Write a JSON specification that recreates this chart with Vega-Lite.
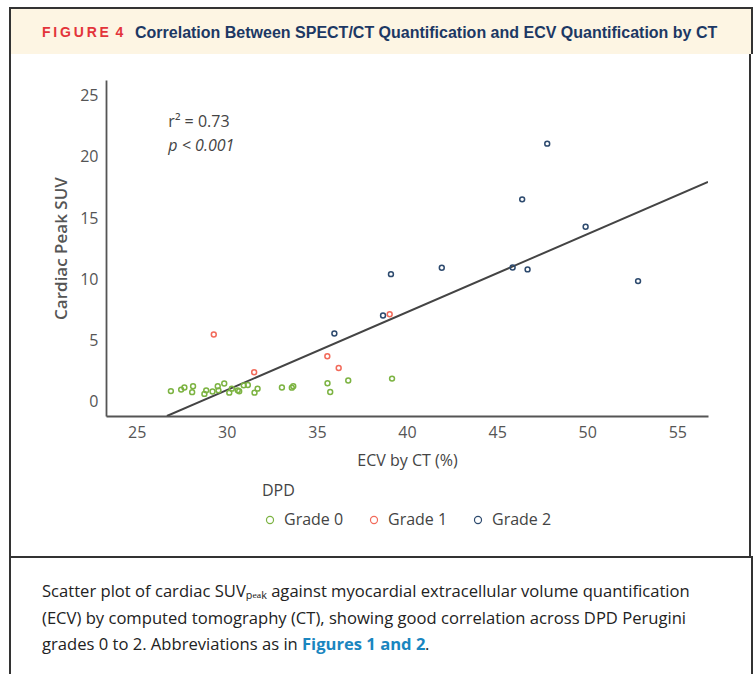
{
  "$schema": "https://vega.github.io/schema/vega-lite/v6.json",
  "padding": {"left": 9, "top": 7, "right": 0, "bottom": 0},
  "background": "white",
  "spacing": 0,
  "config": {"view": {"stroke": null}, "concat": {"spacing": 0}},
  "data": {"values": [{"k": 0}]},
  "datasets": {
    "points": [
      {"ecv": 26.90, "suv": 0.84, "grade": "Grade 0"},
      {"ecv": 27.47, "suv": 0.96, "grade": "Grade 0"},
      {"ecv": 27.65, "suv": 1.13, "grade": "Grade 0"},
      {"ecv": 28.13, "suv": 1.23, "grade": "Grade 0"},
      {"ecv": 28.08, "suv": 0.75, "grade": "Grade 0"},
      {"ecv": 28.76, "suv": 0.61, "grade": "Grade 0"},
      {"ecv": 28.86, "suv": 0.90, "grade": "Grade 0"},
      {"ecv": 29.21, "suv": 0.80, "grade": "Grade 0"},
      {"ecv": 29.50, "suv": 1.23, "grade": "Grade 0"},
      {"ecv": 29.54, "suv": 0.90, "grade": "Grade 0"},
      {"ecv": 29.86, "suv": 1.46, "grade": "Grade 0"},
      {"ecv": 30.14, "suv": 0.71, "grade": "Grade 0"},
      {"ecv": 30.28, "suv": 1.04, "grade": "Grade 0"},
      {"ecv": 30.61, "suv": 0.90, "grade": "Grade 0"},
      {"ecv": 30.69, "suv": 0.82, "grade": "Grade 0"},
      {"ecv": 30.94, "suv": 1.31, "grade": "Grade 0"},
      {"ecv": 31.17, "suv": 1.34, "grade": "Grade 0"},
      {"ecv": 31.54, "suv": 0.71, "grade": "Grade 0"},
      {"ecv": 31.71, "suv": 1.04, "grade": "Grade 0"},
      {"ecv": 33.06, "suv": 1.13, "grade": "Grade 0"},
      {"ecv": 33.61, "suv": 1.12, "grade": "Grade 0"},
      {"ecv": 33.69, "suv": 1.23, "grade": "Grade 0"},
      {"ecv": 35.59, "suv": 1.48, "grade": "Grade 0"},
      {"ecv": 35.74, "suv": 0.76, "grade": "Grade 0"},
      {"ecv": 36.74, "suv": 1.70, "grade": "Grade 0"},
      {"ecv": 39.17, "suv": 1.86, "grade": "Grade 0"},
      {"ecv": 29.28, "suv": 5.47, "grade": "Grade 1"},
      {"ecv": 31.52, "suv": 2.38, "grade": "Grade 1"},
      {"ecv": 35.58, "suv": 3.69, "grade": "Grade 1"},
      {"ecv": 36.21, "suv": 2.73, "grade": "Grade 1"},
      {"ecv": 39.04, "suv": 7.13, "grade": "Grade 1"},
      {"ecv": 35.97, "suv": 5.55, "grade": "Grade 2"},
      {"ecv": 38.67, "suv": 7.02, "grade": "Grade 2"},
      {"ecv": 39.11, "suv": 10.41, "grade": "Grade 2"},
      {"ecv": 41.93, "suv": 10.93, "grade": "Grade 2"},
      {"ecv": 45.86, "suv": 10.96, "grade": "Grade 2"},
      {"ecv": 46.69, "suv": 10.80, "grade": "Grade 2"},
      {"ecv": 46.39, "suv": 16.53, "grade": "Grade 2"},
      {"ecv": 47.78, "suv": 21.09, "grade": "Grade 2"},
      {"ecv": 49.91, "suv": 14.29, "grade": "Grade 2"},
      {"ecv": 52.82, "suv": 9.84, "grade": "Grade 2"}
    ],
    "fit": [
      {"ecv": 26.68, "suv": -1.2},
      {"ecv": 56.7, "suv": 17.95}
    ],
    "one": [{"k": 0}],
    "caption": [
      {"n": 1, "part": "plain", "t": "Scatter plot of cardiac SUVₚₑₐₖ against myocardial extracellular volume quantification"},
      {"n": 2, "part": "plain", "t": "(ECV) by computed tomography (CT), showing good correlation across DPD Perugini"},
      {"n": 3, "part": "plain", "t": "grades 0 to 2. Abbreviations as in"},
      {"n": 3, "part": "link", "t": "Figures 1 and 2"},
      {"n": 3, "part": "dot", "t": "."}
    ]
  },
  "vconcat": [
    {"width": 744, "height": 2, "view": {"fill": "#333", "stroke": null}, "mark": {"type": "point", "size": 0, "opacity": 0}},
    {
      "spacing": 0,
      "hconcat": [
        {"width": 2, "height": 45, "view": {"fill": "#333", "stroke": null}, "mark": {"type": "point", "size": 0, "opacity": 0}},
        {
          "width": 740, "height": 45,
          "view": {"fill": "#fdf5e3", "stroke": null},
          "layer": [
            {"mark": {"type": "text", "align": "left", "baseline": "middle", "font": "Liberation Sans", "fontWeight": "bold", "fontSize": 14, "color": "#e3343a", "dx": 31, "dy": 1.5},
             "encoding": {"x": {"datum": 0, "type": "quantitative", "scale": {"domain": [0, 1], "nice": false}, "axis": null},
                          "text": {"value": "F\u2009I\u2009G\u2009U\u2009R\u2009E \u20094"}}},
            {"mark": {"type": "text", "align": "left", "baseline": "middle", "font": "Liberation Sans", "fontWeight": "bold", "fontSize": 16, "color": "#1c3864", "dx": 124, "dy": 1.5},
             "encoding": {"x": {"datum": 0, "type": "quantitative", "scale": {"domain": [0, 1], "nice": false}, "axis": null},
                          "text": {"value": "Correlation Between SPECT/CT Quantification and ECV Quantification by CT"}}}
          ]
        },
        {"width": 2, "height": 45, "view": {"fill": "#333", "stroke": null}, "mark": {"type": "point", "size": 0, "opacity": 0}}
      ]
    },
    {
      "spacing": 41,
      "hconcat": [
        {"width": 2, "height": 502, "view": {"fill": "#333", "stroke": null}, "mark": {"type": "point", "size": 0, "opacity": 0}},
        {
          "spacing": 0,
          "vconcat": [
            {"width": 602, "height": 26, "mark": {"type": "point", "size": 0, "opacity": 0}},
            {
              "width": 602, "height": 336,
              "layer": [
                {"data": {"name": "fit"}, "mark": {"type": "line", "color": "#444", "strokeWidth": 2, "clip": true},
                 "encoding": {
                   "x": {"field": "ecv", "type": "quantitative", "scale": {"domain": [23.3, 56.7], "nice": false, "zero": false}},
                   "y": {"field": "suv", "type": "quantitative", "scale": {"domain": [-1.2, 26.3], "nice": false, "zero": false}}
                 }},
                {"data": {"name": "points"},
                 "mark": {"type": "point", "shape": "circle", "filled": false, "size": 24, "strokeWidth": 1.5, "opacity": 1},
                 "encoding": {
                   "x": {"field": "ecv", "type": "quantitative",
                         "scale": {"domain": [23.3, 56.7], "nice": false, "zero": false},
                         "axis": {"values": [25, 30, 35, 40, 45, 50, 55], "title": "ECV by CT (%)", "grid": false, "ticks": false,
                                  "domainColor": "#555", "domainWidth": 1.8, "labelFont": "Open Sans", "labelFontSize": 16, "labelColor": "#555",
                                  "labelPadding": 8, "titleFont": "Open Sans", "titleFontSize": 16, "titleFontWeight": "normal", "titleColor": "#444", "titlePadding": 12}},
                   "y": {"field": "suv", "type": "quantitative",
                         "scale": {"domain": [-1.2, 26.3], "nice": false, "zero": false},
                         "axis": {"values": [0, 5, 10, 15, 20, 25], "title": "Cardiac Peak SUV", "grid": false, "ticks": false,
                                  "domainColor": "#555", "domainWidth": 1.8, "labelFont": "Open Sans", "labelFontSize": 16, "labelColor": "#555",
                                  "labelPadding": 8, "titleFont": "Open Sans", "titleFontSize": 17, "titleFontWeight": 600, "titleColor": "#555", "titlePadding": 9}},
                   "color": {"field": "grade", "type": "nominal",
                     "scale": {"domain": ["Grade 0", "Grade 1", "Grade 2"], "range": ["#7cb342", "#f26a5a", "#2d4a6e"]},
                     "legend": {"orient": "none", "legendX": 253, "legendY": 476, "direction": "horizontal", "title": "DPD",
                                "titleFont": "Open Sans", "titleFontSize": 16, "titleFontWeight": "normal", "titleColor": "#444", "titlePadding": 13,
                                "labelFont": "Open Sans", "labelFontSize": 16, "labelColor": "#444", "labelOffset": 6,
                                "symbolType": "circle", "symbolSize": 50, "symbolStrokeWidth": 1.2, "columnPadding": 22, "padding": 0}}}},
                {"data": {"name": "one"},
                 "mark": {"type": "text", "align": "left", "baseline": "middle", "font": "Open Sans", "fontSize": 16, "color": "#444"},
                 "encoding": {"x": {"datum": 26.76, "type": "quantitative"}, "y": {"datum": 22.87, "type": "quantitative"}, "text": {"value": "r² = 0.73"}}},
                {"data": {"name": "one"},
                 "mark": {"type": "text", "align": "left", "baseline": "middle", "font": "Open Sans", "fontSize": 16, "fontStyle": "italic", "color": "#444"},
                 "encoding": {"x": {"datum": 26.76, "type": "quantitative"}, "y": {"datum": 20.9, "type": "quantitative"}, "text": {"value": "p < 0.001"}}}
              ]
            }
          ]
        },
        {"width": 2, "height": 502, "view": {"fill": "#333", "stroke": null}, "mark": {"type": "point", "size": 0, "opacity": 0}}
      ]
    },
    {"width": 744, "height": 2, "view": {"fill": "#333", "stroke": null}, "mark": {"type": "point", "size": 0, "opacity": 0}},
    {
      "spacing": 0,
      "hconcat": [
        {"width": 2, "height": 116, "view": {"fill": "#333", "stroke": null}, "mark": {"type": "point", "size": 0, "opacity": 0}},
        {
          "width": 740, "height": 116,
          "view": {"fill": "white", "stroke": null},
          "data": {"name": "caption"},
          "encoding": {
            "x": {"datum": 0, "type": "quantitative", "scale": {"domain": [0, 1], "nice": false}, "axis": null},
            "y": {"field": "n", "type": "quantitative", "scale": {"domain": [-0.283, 4.094], "nice": false, "zero": false, "reverse": true}, "axis": null},
            "text": {"field": "t"}
          },
          "layer": [
            {"transform": [{"filter": "datum.part == 'plain'"}],
             "mark": {"type": "text", "align": "left", "baseline": "middle", "font": "Open Sans", "fontSize": 16.6, "color": "#222", "dx": 31}},
            {"transform": [{"filter": "datum.part == 'link'"}],
             "mark": {"type": "text", "align": "left", "baseline": "middle", "font": "Open Sans", "fontSize": 16.6, "fontWeight": "bold", "color": "#1a86c0", "dx": 291}},
            {"transform": [{"filter": "datum.part == 'dot'"}],
             "mark": {"type": "text", "align": "left", "baseline": "middle", "font": "Open Sans", "fontSize": 16.6, "color": "#222", "dx": 414}}
          ]
        },
        {"width": 2, "height": 116, "view": {"fill": "#333", "stroke": null}, "mark": {"type": "point", "size": 0, "opacity": 0}}
      ]
    }
  ]
}
